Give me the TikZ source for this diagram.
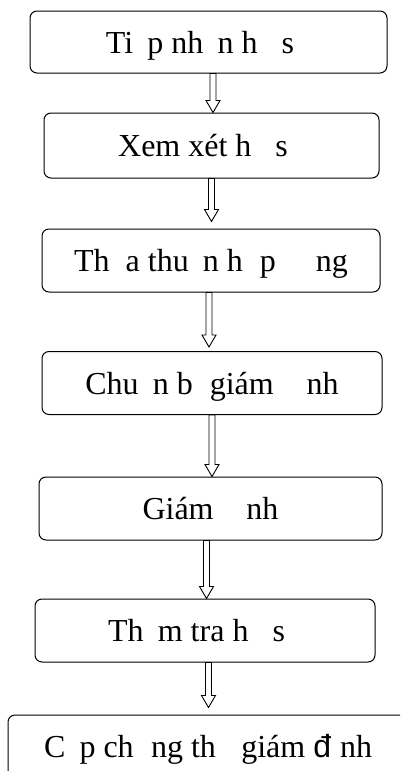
\documentclass[tikz,border=0pt]{standalone}
\usepackage{fontspec}
\setmainfont{Liberation Serif}
\newfontfamily\arialfont{Liberation Sans}
\usetikzlibrary{calc}
\newcommand{\nochar}[1]{\phantom{#1}}
\tikzset{
stage/.style = { rectangle, draw = black, fill = white, line width = 1pt, rounded corners = 7pt, minimum height = 63pt, text height = 22pt, text depth = 0pt, inner sep = 0pt, font = \fontsize{32}{38}\selectfont },
hollow arrow/.style = { draw = black, fill = white, line width = 0.9pt,
    to path = { let \p1 = (\tikztostart), \p2 = (\tikztotarget) in
    (\x1 - 3pt, \y1) -- (\x1 - 3pt, \y2 + 12pt) -- (\x1 - 7pt, \y2 + 12pt) -- (\x1, \y2)
    -- (\x1 + 7pt, \y2 + 12pt) -- (\x1 + 3pt, \y2 + 12pt) -- (\x1 + 3pt, \y1) -- cycle } },
}

\begin{document}
\begin{tikzpicture}[x = 1pt, y = -1pt]
    \useasboundingbox (0, 0) rectangle (400, 771);
    \clip (0, 0) rectangle (400, 771);
    \node[stage, minimum width = 357pt, minimum height = 62pt] (b1) at (208.5, 42) {Ti\nochar{ế}p nh\nochar{ậ}n h\nochar{ồ} s\nochar{ơ}};
    \node[stage, minimum width = 335pt, minimum height = 65pt] (b2) at (211.5, 145.5) {Xem xét h\nochar{ồ} s\nochar{ơ}};
    \node[stage, minimum width = 338pt] (b3) at (211, 260.5) {Th\nochar{ỏ}a thu\nochar{ậ}n h\nochar{ợ}p \nochar{đồ}ng};
    \node[stage, minimum width = 340pt] (b4) at (212, 383) {Chu\nochar{ẩ}n b\nochar{ị} giám \nochar{đị}nh};
    \node[stage, minimum width = 343pt] (b5) at (210.5, 508.5) {Giám \nochar{đị}nh};
    \node[stage, minimum width = 340pt] (b6) at (205, 630.5) {Th\nochar{ẩ}m tra h\nochar{ồ} s\nochar{ơ}};
    \node[stage, minimum width = 400pt] (b7) at (208, 746.5) {C\nochar{ấ}p ch\nochar{ứ}ng th\nochar{ư} giám {\arialfont đ}\nochar{ị}nh};
    % hollow arrows between the steps
    \path[hollow arrow] ([xshift = 4.5pt]b1.south) to (b2.north);
    \path[hollow arrow] (b2.south) to ([yshift = 7pt]b3.north);
    \path[hollow arrow] ([xshift = -2pt]b3.south) to ([yshift = 4pt]b4.north);
    \path[hollow arrow] (b4.south) to (b5.north);
    \path[hollow arrow] ([xshift = -4pt]b5.south) to (b6.north);
    \path[hollow arrow] ([xshift = 3.5pt]b6.south) to ([yshift = 7pt]b7.north);
\end{tikzpicture}
\end{document}
